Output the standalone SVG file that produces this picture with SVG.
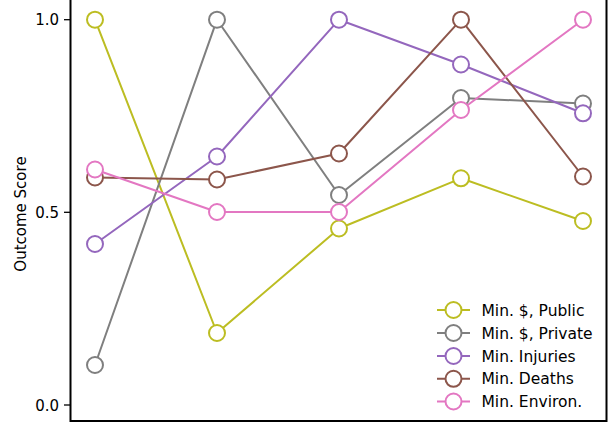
<svg xmlns="http://www.w3.org/2000/svg" width="616" height="424" viewBox="0 0 616 424">
<style>
text{font-family:"DejaVu Sans","Liberation Sans",sans-serif;font-size:15px;fill:#000}
#legend text{font-size:15.5px}
.s{fill:none;stroke-width:2;stroke-linejoin:round}
.m{fill:#fff;stroke-width:2}
.y{stroke:#bcbd22}.g{stroke:#7f7f7f}.p{stroke:#9467bd}.b{stroke:#8c564b}.k{stroke:#e377c2}
.ax{stroke:#000;stroke-width:2;fill:none}
.tk{stroke:#000;stroke-width:1.3}
</style>
<rect width="616" height="424" fill="#fff"/>
<g id="axes">
<path class="ax" d="M70.5,0 V421 H606.5 V0"/>
<line class="tk" x1="64" y1="19.7" x2="70" y2="19.7"/>
<line class="tk" x1="64" y1="212.3" x2="70" y2="212.3"/>
<line class="tk" x1="64" y1="405" x2="70" y2="405"/>
<text x="59" y="25.2" text-anchor="end">1.0</text>
<text x="59" y="217.8" text-anchor="end">0.5</text>
<text x="59" y="410.5" text-anchor="end">0.0</text>
<text transform="translate(26,214) rotate(-90)" text-anchor="middle">Outcome Score</text>
</g>
<g id="connectors">
<polyline class="s y" points="95,19.7 217,333 339,228.5 461,178.3 583,221"/>
<g id="public" class="y"><circle class="m" cx="95" cy="19.7" r="8"/><circle class="m" cx="217" cy="333" r="8"/><circle class="m" cx="339" cy="228.5" r="8"/><circle class="m" cx="461" cy="178.3" r="8"/><circle class="m" cx="583" cy="221" r="8"/></g>
<polyline class="s g" points="95,365 217,19.7 339,195 461,98 583,103.5"/>
<g id="private" class="g"><circle class="m" cx="95" cy="365" r="8"/><circle class="m" cx="217" cy="19.7" r="8"/><circle class="m" cx="339" cy="195" r="8"/><circle class="m" cx="461" cy="98" r="8"/><circle class="m" cx="583" cy="103.5" r="8"/></g>
<polyline class="s p" points="95,244 217,156.5 339,19.7 461,64.5 583,113.3"/>
<g id="injuries" class="p"><circle class="m" cx="95" cy="244" r="8"/><circle class="m" cx="217" cy="156.5" r="8"/><circle class="m" cx="339" cy="19.7" r="8"/><circle class="m" cx="461" cy="64.5" r="8"/><circle class="m" cx="583" cy="113.3" r="8"/></g>
<polyline class="s b" points="95,177.5 217,179.5 339,153.5 461,19.7 583,176.5"/>
<g id="deaths" class="b"><circle class="m" cx="95" cy="177.5" r="8"/><circle class="m" cx="217" cy="179.5" r="8"/><circle class="m" cx="339" cy="153.5" r="8"/><circle class="m" cx="461" cy="19.7" r="8"/><circle class="m" cx="583" cy="176.5" r="8"/></g>
<polyline class="s k" points="95,169.5 217,212 339,212 461,110 583,19.7"/>
<g id="environ" class="k"><circle class="m" cx="95" cy="169.5" r="8"/><circle class="m" cx="217" cy="212" r="8"/><circle class="m" cx="339" cy="212" r="8"/><circle class="m" cx="461" cy="110" r="8"/><circle class="m" cx="583" cy="19.7" r="8"/></g>
</g>
<g id="legend">
<line class="s y" x1="437" y1="310" x2="470" y2="310"/><circle class="m y" cx="453.5" cy="310" r="8"/><text x="481.5" y="315.5">Min. $, Public</text>
<line class="s g" x1="437" y1="333" x2="470" y2="333"/><circle class="m g" cx="453.5" cy="333" r="8"/><text x="481.5" y="338.5">Min. $, Private</text>
<line class="s p" x1="437" y1="356" x2="470" y2="356"/><circle class="m p" cx="453.5" cy="356" r="8"/><text x="481.5" y="361.5">Min. Injuries</text>
<line class="s b" x1="437" y1="378.8" x2="470" y2="378.8"/><circle class="m b" cx="453.5" cy="378.8" r="8"/><text x="481.5" y="384.3">Min. Deaths</text>
<line class="s k" x1="437" y1="401.5" x2="470" y2="401.5"/><circle class="m k" cx="453.5" cy="401.5" r="8"/><text x="481.5" y="407">Min. Environ.</text>
</g>
</svg>
